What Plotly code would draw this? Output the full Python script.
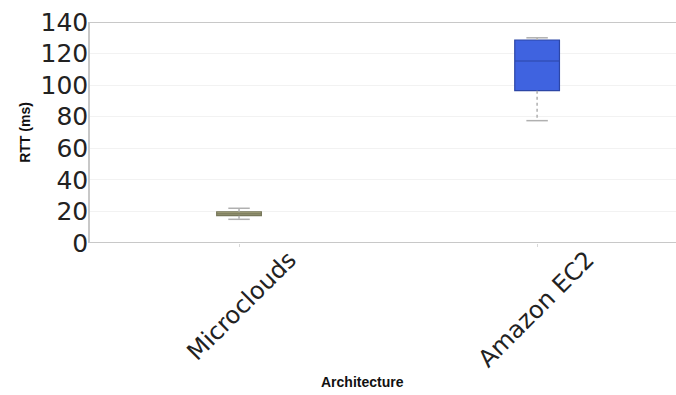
import plotly.graph_objects as go

categories = ["Microclouds", "Amazon EC2"]
positions = [0, 1]
q1 = [17.3, 96.5]
median = [18.5, 115.3]
q3 = [19.8, 128.6]
lower_whisker = [15.0, 77.5]
upper_whisker = [22.0, 130.0]
fill_colors = ["#a3a27c", "#3f63e0"]
line_colors = ["#77775a", "#2c46a6"]
y_ticks = [0, 20, 40, 60, 80, 100, 120, 140]

fig = go.Figure()

cap = 0.036
for i, c in enumerate(categories):
    x = positions[i]
    fig.add_trace(go.Scatter(
        x=[x, x, None, x, x], y=[q3[i], upper_whisker[i], None, q1[i], lower_whisker[i]],
        mode="lines", line=dict(color="#b0b0b0", width=1.5, dash="dot"),
        showlegend=False, hoverinfo="skip"))
    fig.add_trace(go.Scatter(
        x=[x - cap, x + cap, None, x - cap, x + cap],
        y=[upper_whisker[i], upper_whisker[i], None, lower_whisker[i], lower_whisker[i]],
        mode="lines", line=dict(color="#b0b0b0", width=1.5),
        showlegend=False, hoverinfo="skip"))
    fig.add_trace(go.Box(
        x=[x], q1=[q1[i]], median=[median[i]], q3=[q3[i]],
        lowerfence=[q1[i]], upperfence=[q3[i]],
        fillcolor=fill_colors[i], line=dict(color=line_colors[i], width=1.2),
        width=0.15, whiskerwidth=0, showlegend=False, name=c))

fig.update_layout(
    width=676, height=395, autosize=False,
    margin=dict(l=90, r=0, t=22, b=152),
    paper_bgcolor="white", plot_bgcolor="white",
    font=dict(family="DejaVu Sans", color="#222222"),
    xaxis=dict(
        range=[-0.5, 1.466], tickmode="array", tickvals=positions, ticktext=categories,
        tickangle=-45, tickfont=dict(size=24, family="DejaVu Sans", color="#222222"),
        ticklabelshift=50, ticklabelstandoff=-11, automargin=False,
        showgrid=False, zeroline=False, showline=False,
        ticks="outside", ticklen=3, tickcolor="#d8d8d8",
    ),
    yaxis=dict(
        range=[0, 140], tickmode="array", tickvals=y_ticks, automargin=False,
        tickfont=dict(size=25, family="DejaVu Sans", color="#222222"),
        showgrid=True, gridcolor="#f2f2f2", zeroline=False,
        showline=True, linecolor="#c8c8c8", linewidth=1.5,
        ticks="", ticklabelstandoff=-5,
        title=dict(text="<b>RTT (ms)</b>", font=dict(size=14, family="Liberation Sans", color="#111111"), standoff=7),
    ),
    annotations=[
        dict(text="<b>Architecture</b>", xref="paper", yref="paper", x=0.465, y=-0.63,
             xanchor="center", yanchor="middle", showarrow=False,
             font=dict(size=14, family="Liberation Sans", color="#111111")),
    ],
    shapes=[
        dict(type="line", xref="paper", yref="y", x0=0, x1=1, y0=140, y1=140, line=dict(color="#c8c8c8", width=2)),
        dict(type="line", xref="paper", yref="y", x0=0, x1=1, y0=0, y1=0, line=dict(color="#c8c8c8", width=2)),
    ],
)

fig.write_html(
    "out.html",
    config={"responsive": False, "displayModeBar": False},
    post_script="document.body.style.margin='0';document.body.style.overflow='hidden';",
)
